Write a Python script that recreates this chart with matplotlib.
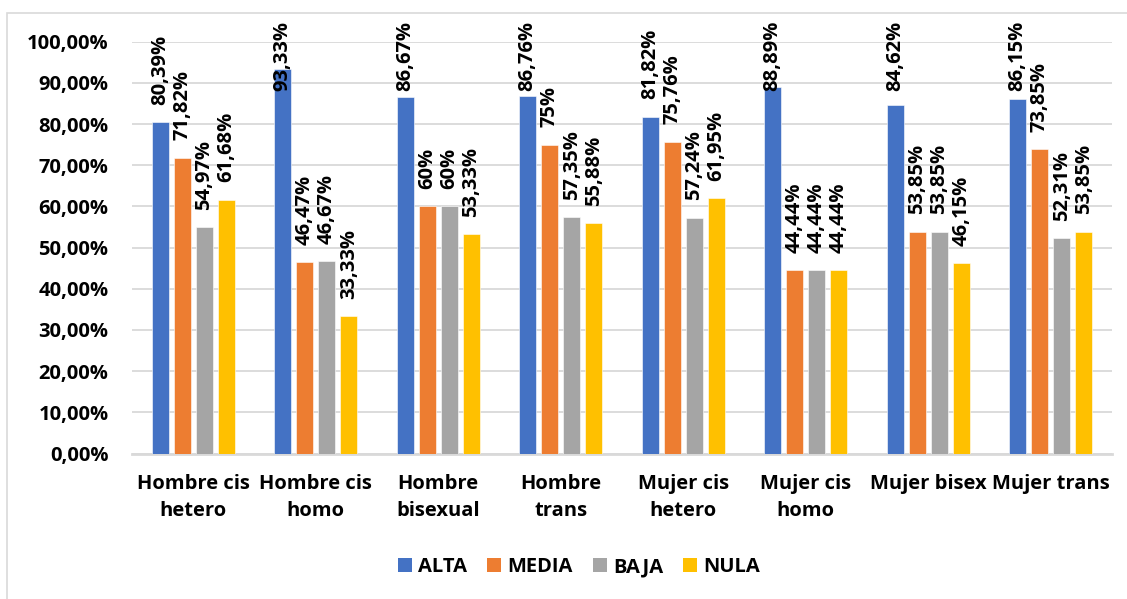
import matplotlib
matplotlib.use("Agg")
import numpy as np
import matplotlib.pyplot as plt
from matplotlib.patches import Patch, Rectangle

plt.rcParams['font.family'] = ['Open Sans', 'DejaVu Sans']

categories = ["Hombre cis\nhetero", "Hombre cis\nhomo", "Hombre\nbisexual", "Hombre\ntrans",
              "Mujer cis\nhetero", "Mujer cis\nhomo", "Mujer bisex", "Mujer trans"]
series_names = ["ALTA", "MEDIA", "BAJA", "NULA"]
alta = [80.39, 93.33, 86.67, 86.76, 81.82, 88.89, 84.62, 86.15]
media = [71.82, 46.47, 60, 75, 75.76, 44.44, 53.85, 73.85]
baja = [54.97, 46.67, 60, 57.35, 57.24, 44.44, 53.85, 52.31]
nula = [61.68, 33.33, 53.33, 55.88, 61.95, 44.44, 46.15, 53.85]
colors = ["#4472C4", "#ED7D31", "#A5A5A5", "#FFC000"]

def pct_label(v):
    s = "%.2f" % v
    if s.endswith(".00"):
        s = s[:-3]
    return s.replace(".", ",") + "%"

W, H = 1127, 599
fig = plt.figure(figsize=(W / 100, H / 100), dpi=100)

# chart area frame
fig.patches.append(Rectangle((7 / W, -0.05), 1.2, 1 - 13 / H + 0.05, transform=fig.transFigure,
                             fill=False, edgecolor="#d9d9d9", lw=1.2, zorder=0))

x0, x1 = 132, 1112
y0, y1 = 453.5, 41.7
ax = fig.add_axes([x0 / W, 1 - y0 / H, (x1 - x0) / W, (y0 - y1) / H])

fs = 14.5
step = 0.18
width = 0.139
x = np.arange(len(categories))
all_series = [alta, media, baja, nula]
labels = []
for i, vals in enumerate(all_series):
    xs = x + (i - 1.5) * step
    ax.bar(xs, vals, width, color=colors[i], edgecolor="white", lw=0.4, zorder=3)
    for xi, v in zip(xs, vals):
        t = ax.annotate(pct_label(v), (xi, v), xytext=(0, 12.5), textcoords="offset points",
                        rotation=90, ha="center", va="bottom", fontsize=fs, fontweight="bold",
                        annotation_clip=False, zorder=5)
        labels.append(t)

ax.set_xlim(-0.5, len(categories) - 0.5)
ax.set_ylim(0, 100)
ax.set_yticks(np.arange(0, 101, 10))
ax.set_yticklabels(["%d,00%%" % v for v in range(0, 101, 10)], fontsize=fs, fontweight="bold")
ax.set_xticks(x)
ax.set_xticklabels(categories, fontsize=fs, fontweight="bold", linespacing=1.45)
ax.tick_params(axis="both", length=0)
ax.tick_params(axis="x", pad=15)
ax.tick_params(axis="y", pad=17)
ax.grid(axis="y", color="#d9d9d9", lw=1.3, zorder=0)
for s in ["top", "right", "left"]:
    ax.spines[s].set_visible(False)
ax.spines["bottom"].set_color("#d9d9d9")
ax.spines["bottom"].set_linewidth(2)
ax.set_axisbelow(True)

# labels that would run off the top are pushed down to fit
fig.canvas.draw()
renderer = fig.canvas.get_renderer()
top_px = H - 21
for t in labels:
    bb = t.get_window_extent(renderer)
    if bb.y1 > top_px:
        shift = (bb.y1 - top_px) * 72 / fig.dpi
        ox, oy = t.xyann
        t.xyann = (ox, oy - shift)

handles = [Patch(facecolor=c, edgecolor="none") for c in colors]
fig.legend(handles, series_names, loc="center", bbox_to_anchor=(579 / W, 1 - 567 / H), ncol=4,
           frameon=False, prop={"size": fs, "weight": "bold"}, handlelength=0.7, handleheight=0.7,
           handletextpad=0.3, columnspacing=1.0)

fig.savefig("out.png", dpi=100)
